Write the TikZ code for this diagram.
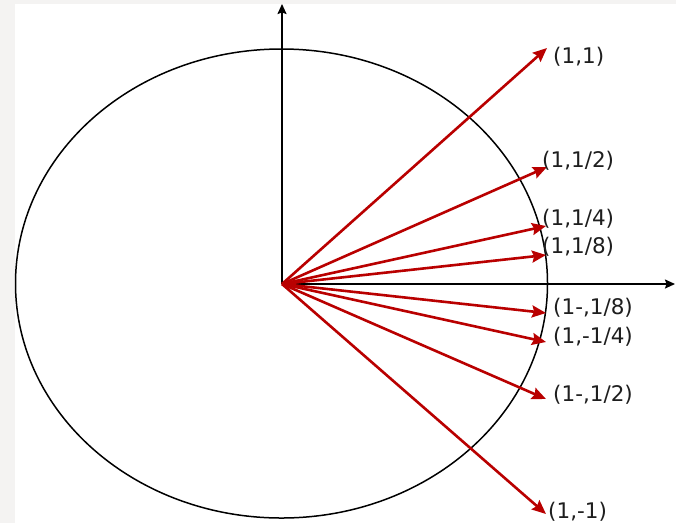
\documentclass[tikz,border=0pt]{standalone}
\usepackage{fontspec}
\setmainfont{DejaVu Sans}
\usetikzlibrary{arrows.meta}
\definecolor{vred}{RGB}{185,0,0}
\definecolor{lbl}{RGB}{30,30,30}
\definecolor{frame}{RGB}{244,243,242}
\tikzset{
  vec/.style={draw=vred,line width=2.6pt,-{Stealth[length=14pt,width=12pt,inset=2pt]}},
  axis/.style={draw=black,line width=1.7pt,-{Stealth[length=10pt,width=9pt,inset=1.5pt]}},
  lab/.style={anchor=west,inner sep=0pt,text=lbl,font=\fontsize{21.5}{25}\selectfont}
}
\begin{document}
\begin{tikzpicture}[x=1pt,y=-1pt]
\useasboundingbox (0,0) rectangle (676,523);
\fill[frame] (0,0) rectangle (676,523);
\fill[white] (15,3.5) rectangle (676,523);
\draw[line width=1.5pt] (281.5,283.5) ellipse [x radius=266, y radius=234.5];
\coordinate (O) at (282,284);
\coordinate (yt) at (282,4);
\coordinate (xt) at (675,284);
\draw[axis] (O) -- (yt);
\draw[axis] (O) -- (xt);
\coordinate (t1) at (547,48);
\coordinate (t2) at (547,167);
\coordinate (t3) at (546,226);
\coordinate (t4) at (546,255);
\coordinate (t5) at (546,313);
\coordinate (t6) at (546,342);
\coordinate (t7) at (546,399);
\coordinate (t8) at (546,514);
\foreach \t in {t1,t2,t3,t4,t5,t6,t7,t8} \draw[vec] (O) -- (\t);
\node[lab] (l1) at (553,57) {(1,1)};
\node[lab] (l2) at (542,161) {(1,1/2)};
\node[lab] (l3) at (542,219) {(1,1/4)};
\node[lab] (l4) at (542,247) {(1,1/8)};
\node[lab] (l5) at (553,308) {(1-,1/8)};
\node[lab] (l6) at (553,337) {(1,-1/4)};
\node[lab] (l7) at (553,395) {(1-,1/2)};
\node[lab] (l8) at (548,512) {(1,-1)};
\end{tikzpicture}
\end{document}
